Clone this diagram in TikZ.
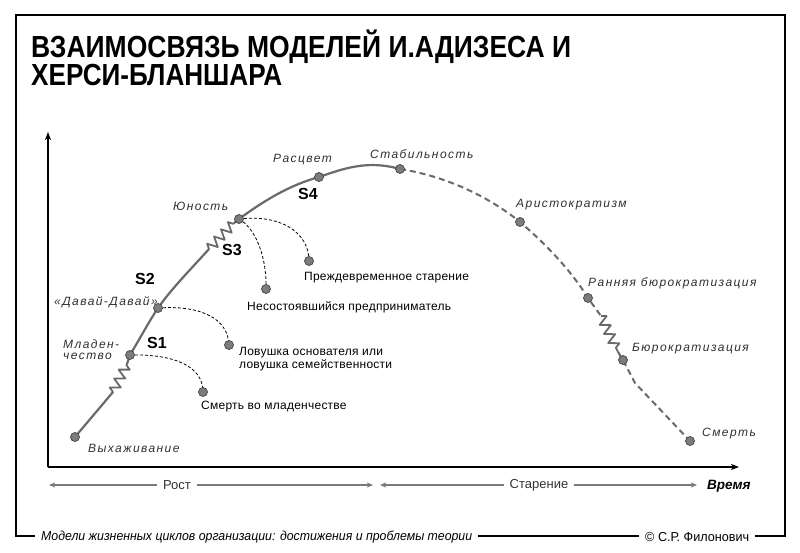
\documentclass[tikz,border=0pt]{standalone}
\usepackage{fontspec}
\setmainfont{Liberation Sans}
\newfontfamily\labfont[LetterSpace=12]{Liberation Sans}
\newfontfamily\blkfont[LetterSpace=2]{Liberation Sans}
\usetikzlibrary{decorations.pathmorphing,arrows.meta,backgrounds}
\definecolor{curvegray}{HTML}{6A6A6A}
\definecolor{dotfill}{HTML}{7C7C7C}
\definecolor{dotedge}{HTML}{454545}
\definecolor{tlgray}{HTML}{7A7A7A}
\definecolor{labcol}{HTML}{303030}
\tikzset{
  dot/.style={circle,minimum size=9pt,inner sep=0pt,fill=dotfill,draw=dotedge,line width=0.7pt},
  curve/.style={draw=curvegray,line width=2.2pt,line join=round},
  dcurve/.style={draw=curvegray,line width=2pt,dash pattern=on 6pt off 4pt},
  zz/.style={curve,line width=1.8pt,decorate,decoration={zigzag,amplitude=5pt,segment length=10pt}},
  branch/.style={draw=black,line width=0.8pt,dash pattern=on 3pt off 2pt},
  ilab/.style={anchor=west,inner sep=0pt,font=\labfont\itshape\fontsize{12}{12}\selectfont,text=labcol},
  blab/.style={anchor=west,inner sep=0pt,font=\blkfont\fontsize{12}{11}\selectfont,text=black,align=left},
  slab/.style={inner sep=0pt,font=\bfseries\fontsize{16}{16}\selectfont},
  axis/.style={draw=black,line width=2.2pt},
  tl/.style={draw=tlgray,line width=1.8pt},
  tlab/.style={inner sep=0pt,font=\fontsize{13}{13}\selectfont,text=black!80}
}
\begin{document}
\begin{tikzpicture}[x=1pt,y=-1pt]
\useasboundingbox (0,0) rectangle (800,553);
% frame
\draw[line width=1.4pt] (16,536) -- (16,15) -- (785,15) -- (785,536) -- cycle;
% title
\node[anchor=base west,inner sep=0pt] (t1) at (31,58) {\resizebox{540pt}{\height}{\fontsize{30.5}{30}\selectfont\bfseries ВЗАИМОСВЯЗЬ МОДЕЛЕЙ И.АДИЗЕСА И}};
\node[anchor=base west,inner sep=0pt] (t2) at (31,86) {\resizebox{251pt}{\height}{\fontsize{30.5}{30}\selectfont\bfseries ХЕРСИ-БЛАНШАРА}};
% footer
\node[anchor=west,fill=white,inner xsep=6pt,inner ysep=2pt] (f1) at (35,537) {\resizebox{431pt}{\height}{\fontsize{13}{13}\selectfont\itshape Модели жизненных циклов организации: достижения и проблемы теории}};
\node[anchor=west,fill=white,inner xsep=6pt,inner ysep=2pt] (f2) at (639,537) {\resizebox{104pt}{\height}{\fontsize{13}{13}\selectfont © С.Р. Филонович}};
% axes
\coordinate (O) at (48,467);
\coordinate (Ytip) at (48,132);
\coordinate (Xtip) at (739,467);
\draw[axis,-{Stealth[length=8pt,width=6pt,inset=2pt]}] (O) -- (Ytip);
\draw[axis,-{Stealth[length=8pt,width=6pt,inset=2pt]}] (O) -- (Xtip);
% timeline
\node[tlab,inner xsep=6pt] (rost) at (177,485) {Рост};
\node[tlab,inner xsep=6pt] (star) at (539,485) {Старение};
\coordinate (tl1) at (49,485);
\coordinate (tl2) at (373,485);
\coordinate (tl3) at (380,485);
\coordinate (tl4) at (697,485);
\draw[tl,{Stealth[length=6pt,width=5pt,inset=1.5pt]}-] (tl1) -- (rost);
\draw[tl,-{Stealth[length=6pt,width=5pt,inset=1.5pt]}] (rost) -- (tl2);
\draw[tl,{Stealth[length=6pt,width=5pt,inset=1.5pt]}-] (tl3) -- (star);
\draw[tl,-{Stealth[length=6pt,width=5pt,inset=1.5pt]}] (star) -- (tl4);
\node[anchor=west,inner sep=0pt,font=\bfseries\itshape\fontsize{13.5}{13}\selectfont] (vr) at (707,486) {Время};
% dots on curve
\node[dot] (W) at (75,437) {};
\node[dot] (M) at (130,355) {};
\node[dot] (D) at (158,308) {};
\node[dot] (J) at (239,219) {};
\node[dot] (R) at (319,177) {};
\node[dot] (St) at (400,169) {};
\node[dot] (A) at (520,222) {};
\node[dot] (RB) at (588,298) {};
\node[dot] (B) at (623,360) {};
\node[dot] (Sm) at (690,441) {};
% branch dots
\node[dot] (sm1) at (203,392) {};
\node[dot] (lv) at (229,345) {};
\node[dot] (ns) at (266,289) {};
\node[dot] (pr) at (309,261) {};
% helper coordinates
\coordinate (z1a) at (113,392);
\coordinate (z1b) at (127,364);
\coordinate (z3a) at (209,249);
\coordinate (z3b) at (234,223);
\coordinate (z2a) at (601,316);
\coordinate (z2b) at (618,352);
\coordinate (b1) at (635,383);
\begin{scope}[on background layer]
\fill[white] (0,0) rectangle (800,553);
\draw[curve] (W.center) -- (z1a);
\draw[zz] (z1a) -- (z1b);
\draw[curve] (z1b) -- (M.center) .. controls (143,333) and (150,320) .. (D.center)
  .. controls (172,288) and (192,268) .. (z3a);
\draw[zz] (z3a) -- (z3b);
\draw[curve] (z3b) -- (J.center) .. controls (265,200) and (290,185) .. (R.center)
  .. controls (345,168) and (368,160) .. (St.center);
\draw[dcurve] (St.center) .. controls (445,176) and (488,196) .. (A.center)
  .. controls (548,246) and (572,272) .. (RB.center) -- (z2a);
\draw[zz] (z2a) -- (z2b);
\draw[dcurve] (z2b) -- (B.center) -- (b1) -- (Sm.center);
% branches
\draw[branch] (M.center) .. controls (172,354) and (203,365) .. (sm1.center);
\draw[branch] (D.center) .. controls (200,305) and (228,318) .. (lv.center);
\draw[branch] (J.center) .. controls (258,230) and (267,262) .. (ns.center);
\draw[branch] (J.center) .. controls (280,214) and (309,232) .. (pr.center);
\end{scope}
% italic labels
\node[ilab] (lW) at (88,448) {Выхаживание};
\node[ilab,align=left] (lM) at (63,350) {Младен-\\[-1pt]чество};
\node[ilab] (lD) at (54,302) {«Давай-Давай»};
\node[ilab] (lJ) at (173,206) {Юность};
\node[ilab] (lR) at (273,160) {Расцвет};
\node[ilab] (lSt) at (370,154) {Стабильность};
\node[ilab] (lA) at (516,205) {Аристократизм};
\node[ilab] (lRB) at (588,283) {Ранняя бюрократизация};
\node[ilab] (lB) at (632,349) {Бюрократизация};
\node[ilab] (lSm) at (702,434) {Смерть};
% black labels
\node[blab] (lsm1) at (201,407) {Смерть во младенчестве};
\node[blab] (llv) at (239,359) {Ловушка основателя или\\ловушка семейственности};
\node[blab] (lns) at (247,307) {Несостоявшийся предприниматель};
\node[blab] (lpr) at (304,278) {Преждевременное старение};
% stage labels
\node[slab] (S1) at (157,343) {S1};
\node[slab] (S2) at (145,279) {S2};
\node[slab] (S3) at (232,250) {S3};
\node[slab] (S4) at (308,194) {S4};
\end{tikzpicture}
\end{document}
